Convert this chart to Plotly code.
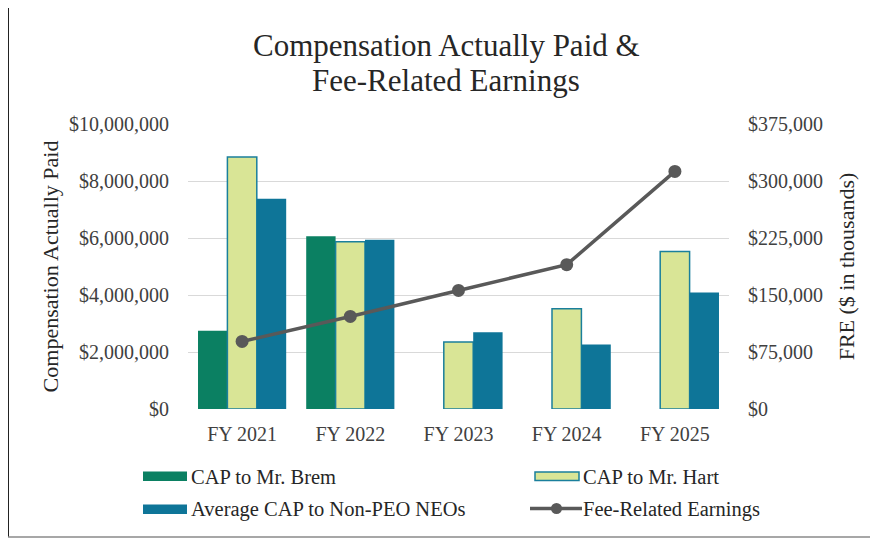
import plotly.graph_objects as go

categories = ["FY 2021", "FY 2022", "FY 2023", "FY 2024", "FY 2025"]
cap_brem = [2750000, 6060000, None, None, None]
cap_hart = [8840000, 5870000, 2350000, 3520000, 5530000]
cap_neo = [7380000, 5940000, 2690000, 2260000, 4090000]
fre = [88900, 121800, 156000, 189900, 312600]

left_ticks = [0, 2000000, 4000000, 6000000, 8000000, 10000000]
right_ticks = [0, 75000, 150000, 225000, 300000, 375000]

names = ["CAP to Mr. Brem", "CAP to Mr. Hart", "Average CAP to Non-PEO NEOs", "Fee-Related Earnings"]
colors = ["#0b8062", "#d9e596", "#0e7598", "#595959"]
hart_outline = "#1a7f9c"

FONT = "Liberation Serif, Times New Roman, serif"
# page body has an 8px margin; figure is sized so the window shows it all
OFF = 8
W, H = 870, 531
L, R, T, B = 180, 149, 116, 130
PW, PH = W - L - R, H - T - B


def px(sx):
    """screen x -> paper x"""
    return (sx - OFF - L) / PW


def py(sy):
    """screen y -> paper y"""
    return (H - B - (sy - OFF)) / PH


fig = go.Figure()
fig.add_trace(go.Bar(x=categories, y=cap_brem, name=names[0],
                     marker=dict(color=colors[0], line=dict(width=0)), showlegend=False))
fig.add_trace(go.Bar(x=categories, y=cap_hart, name=names[1],
                     marker=dict(color=colors[1], line=dict(color=hart_outline, width=1.5)),
                     showlegend=False))
fig.add_trace(go.Bar(x=categories, y=cap_neo, name=names[2],
                     marker=dict(color=colors[2], line=dict(width=0)), showlegend=False))
fig.add_trace(go.Scatter(x=categories, y=fre, name=names[3], yaxis="y2",
                         mode="lines+markers",
                         line=dict(color=colors[3], width=3.5),
                         marker=dict(color=colors[3], size=13),
                         showlegend=False))

tickfont = dict(family=FONT, size=20, color="#404040")
TXT = "#262626"

shapes = []
bx0, bx1, by0, by1 = px(8), px(874), py(537), py(7)
shapes.append(dict(type="line", xref="paper", yref="paper", x0=bx0, x1=bx0, y0=by0, y1=by1,
                   line=dict(color="#222222", width=2)))
shapes.append(dict(type="line", xref="paper", yref="paper", x0=bx0, x1=bx1, y0=by1, y1=by1,
                   line=dict(color="#222222", width=2)))
shapes.append(dict(type="line", xref="paper", yref="paper", x0=bx0, x1=bx1, y0=by0, y1=by0,
                   line=dict(color="#8a8a8a", width=1.5)))
shapes.append(dict(type="line", xref="paper", yref="paper", x0=bx1, x1=bx1, y0=by0, y1=by1,
                   line=dict(color="#8a8a8a", width=1.5)))

# legend swatches (manual two-column legend)
shapes.append(dict(type="rect", xref="paper", yref="paper", x0=px(143), x1=px(187),
                   y0=py(481), y1=py(471.5), fillcolor=colors[0], line=dict(width=0)))
shapes.append(dict(type="rect", xref="paper", yref="paper", x0=px(143), x1=px(187),
                   y0=py(514), y1=py(504.5), fillcolor=colors[2], line=dict(width=0)))
shapes.append(dict(type="rect", xref="paper", yref="paper", x0=px(535), x1=px(579),
                   y0=py(480.5), y1=py(472), fillcolor=colors[1],
                   line=dict(color=hart_outline, width=1.5)))
shapes.append(dict(type="line", xref="paper", yref="paper", x0=px(530), x1=px(582),
                   y0=py(508.5), y1=py(508.5), line=dict(color=colors[3], width=3.5)))
shapes.append(dict(type="circle", xref="paper", yref="paper", x0=px(551), x1=px(562),
                   y0=py(514), y1=py(503), fillcolor=colors[3], line=dict(width=0)))

annotations = [
    dict(text="Compensation Actually Paid &", x=px(446), y=py(45), xref="paper", yref="paper",
         xanchor="center", yanchor="middle", showarrow=False,
         font=dict(family=FONT, size=31, color=TXT)),
    dict(text="Fee-Related Earnings", x=px(446), y=py(80), xref="paper", yref="paper",
         xanchor="center", yanchor="middle", showarrow=False,
         font=dict(family=FONT, size=31, color=TXT)),
]
legend_text = [(names[0], 189, 476.5), (names[2], 189, 509.5),
               (names[1], 581, 476.5), (names[3], 581, 509)]
for t, lx, ly in legend_text:
    annotations.append(dict(text=t, x=px(lx), y=py(ly), xref="paper", yref="paper",
                            xanchor="left", yanchor="middle", showarrow=False,
                            font=dict(family=FONT, size=20.5, color=TXT)))

fig.update_layout(
    width=W, height=H,
    margin=dict(l=L, r=R, t=T, b=B, autoexpand=False),
    paper_bgcolor="white", plot_bgcolor="white",
    font=dict(family=FONT, size=20, color=TXT),
    barmode="group", bargap=0.185, bargroupgap=0,
    showlegend=False,
    xaxis=dict(showgrid=False, showline=False, zeroline=False,
               ticks="outside", ticklen=7, tickcolor="rgba(0,0,0,0)",
               tickfont=tickfont),
    yaxis=dict(range=[0, 10000000], tickvals=left_ticks, tickformat="$,",
               showgrid=True, gridcolor="#d9d9d9", gridwidth=1.2,
               zeroline=False, showline=False,
               ticks="outside", ticklen=14, tickcolor="rgba(0,0,0,0)",
               tickfont=tickfont,
               title=dict(text="Compensation Actually Paid", standoff=4,
                          font=dict(family=FONT, size=22, color=TXT))),
    yaxis2=dict(range=[0, 375000], tickvals=right_ticks, tickformat="$,",
                overlaying="y", side="right", showgrid=False, zeroline=False,
                showline=False,
                ticks="outside", ticklen=14, tickcolor="rgba(0,0,0,0)",
                tickfont=tickfont,
                title=dict(text="FRE ($ in thousands)", standoff=16,
                           font=dict(family=FONT, size=22, color=TXT))),
    shapes=shapes,
    annotations=annotations,
)

fig.write_html("out.html")
